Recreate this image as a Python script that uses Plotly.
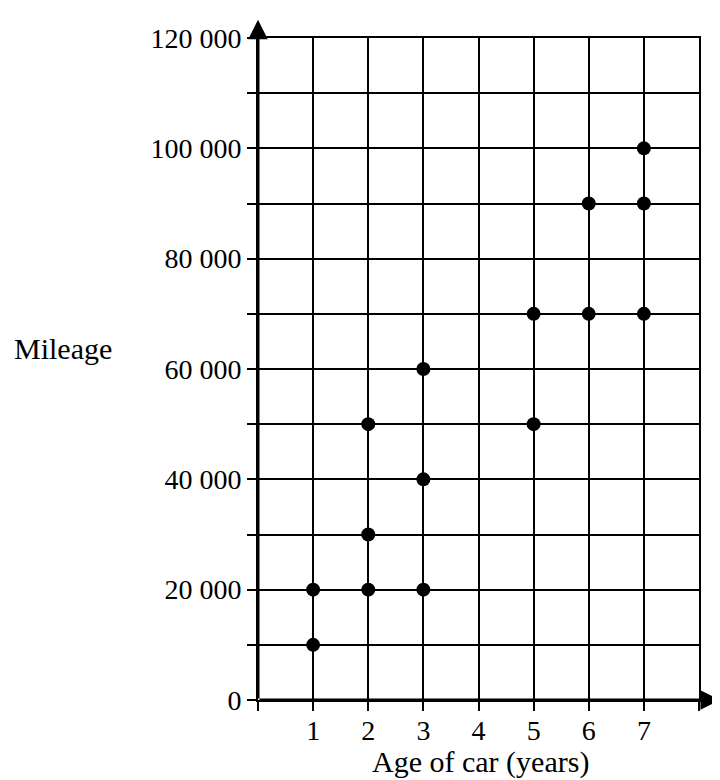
import plotly.graph_objects as go

# Data
age_years = [1, 1, 2, 2, 2, 3, 3, 3, 5, 5, 6, 6, 7, 7, 7]
mileage = [10000, 20000, 20000, 30000, 50000, 20000, 40000, 60000,
           50000, 70000, 70000, 90000, 70000, 90000, 100000]

x_tickvals = [0, 1, 2, 3, 4, 5, 6, 7, 8]
x_ticktext = ["", "1", "2", "3", "4", "5", "6", "7", ""]
y_tickvals = [0, 10000, 20000, 30000, 40000, 50000, 60000, 70000, 80000,
              90000, 100000, 110000, 120000]
y_ticktext = ["0", "", "20 000", "", "40 000", "", "60 000", "", "80 000",
              "", "100 000", "", "120 000"]

FONT = "Liberation Serif"
FS_TICK = 28
FS_TITLE = 30

OFF = 8  # page body margin
PL, PT, PW, PH = 258 - OFF, 38 - OFF, 441, 662
W, H = 720 - OFF, 780 - OFF


def px_x(page_x):
    return (page_x - OFF - PL) / PW


def px_y(page_y):
    return (PT + PH - (page_y - OFF)) / PH


fig = go.Figure()
fig.add_trace(go.Scatter(
    x=age_years, y=mileage, mode="markers",
    marker=dict(color="black", size=14, line=dict(width=0)),
    cliponaxis=False, showlegend=False, hoverinfo="x+y"))

axis_common = dict(ticks="outside", ticklen=9, tickwidth=2, tickcolor="black",
                   showgrid=True, gridcolor="black", gridwidth=2,
                   zeroline=False, showline=True, mirror=True,
                   linecolor="black", linewidth=2,
                   tickfont=dict(family=FONT, size=FS_TICK, color="black"))

fig.update_layout(
    width=W, height=H,
    margin=dict(l=PL, r=W - PL - PW, t=PT, b=H - PT - PH, autoexpand=False),
    paper_bgcolor="white", plot_bgcolor="white",
    font=dict(family=FONT, size=FS_TICK, color="black"),
    xaxis=dict(range=[0, 8], tickmode="array", tickvals=x_tickvals,
               ticktext=x_ticktext, ticklabelstandoff=-5, **axis_common),
    yaxis=dict(range=[0, 120000], tickmode="array", tickvals=y_tickvals,
               ticktext=y_ticktext, **axis_common),
)

# Axis arrows
fig.add_annotation(x=8.38, y=0, ax=0, ay=0, xref="x", yref="y",
                   axref="x", ayref="y", text="", showarrow=True,
                   arrowhead=2, arrowsize=1.3, arrowwidth=3,
                   arrowcolor="black", standoff=0, startstandoff=0)
fig.add_annotation(x=0, y=123300, ax=0, ay=0, xref="x", yref="y",
                   axref="x", ayref="y", text="", showarrow=True,
                   arrowhead=2, arrowsize=1.3, arrowwidth=3,
                   arrowcolor="black", standoff=0, startstandoff=0)

# Axis titles
fig.add_annotation(x=px_x(12), y=px_y(348),
                   xref="paper", yref="paper", xanchor="left",
                   yanchor="middle", text="Mileage", showarrow=False,
                   font=dict(family=FONT, size=FS_TITLE, color="black"))
fig.add_annotation(x=px_x(480), y=px_y(780),
                   xref="paper", yref="paper", xanchor="center",
                   yanchor="bottom", text="Age of car (years)",
                   showarrow=False, borderpad=0,
                   font=dict(family=FONT, size=FS_TITLE, color="black"))

fig.write_html("out.html")
